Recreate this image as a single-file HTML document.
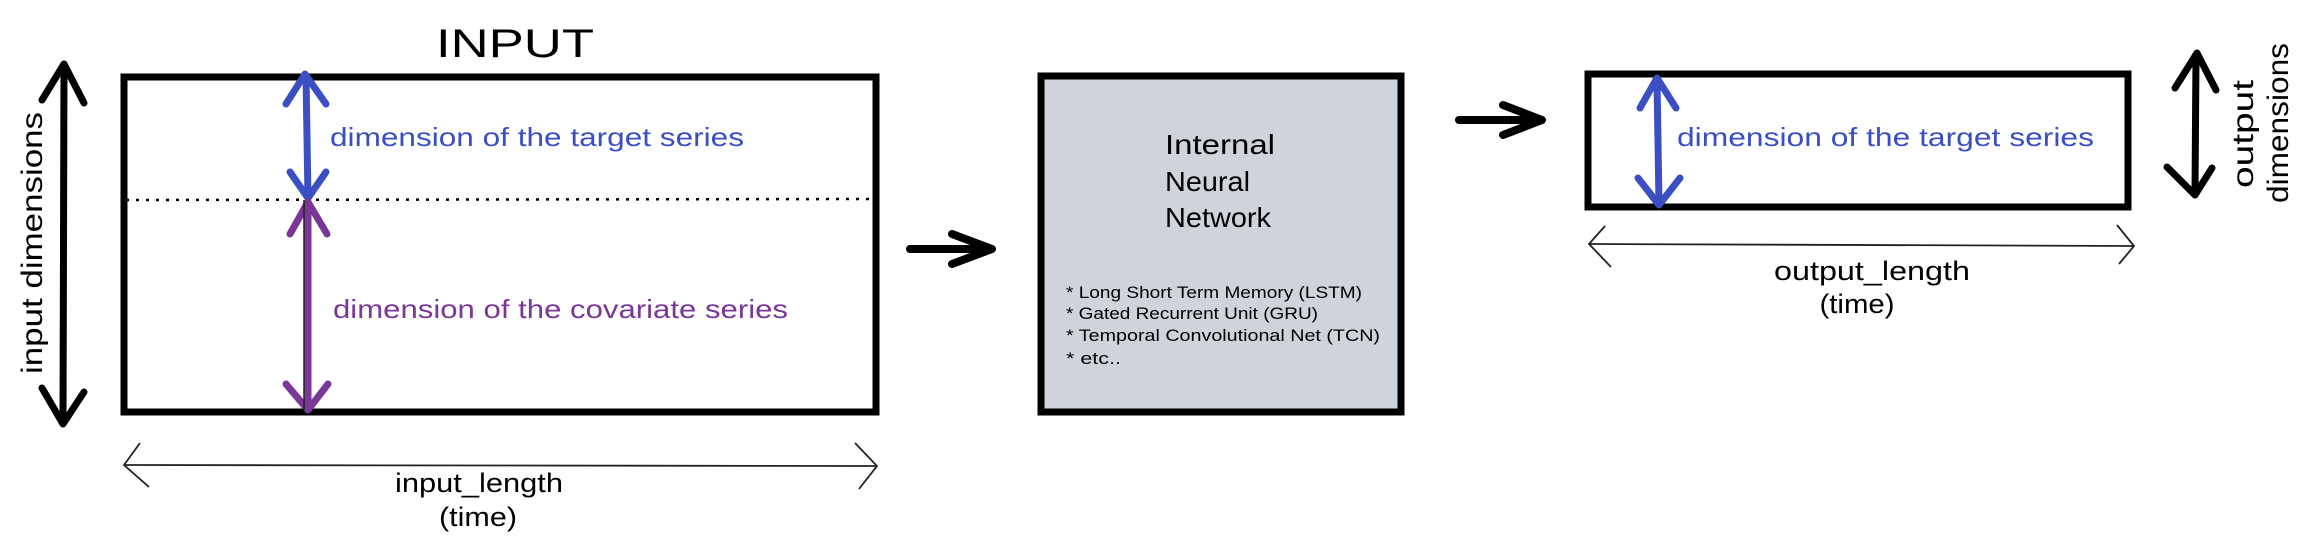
<!DOCTYPE html>
<html><head><meta charset="utf-8"><style>html,body{margin:0;padding:0;background:#fff;}svg{display:block}</style></head>
<body>
<svg width="2324" height="550" viewBox="0 0 2324 550" xmlns="http://www.w3.org/2000/svg" font-family="Liberation Sans, sans-serif">
<rect width="2324" height="550" fill="#fff"/>
<!-- INPUT -->
<text x="515" y="57" font-size="40" text-anchor="middle" textLength="158" lengthAdjust="spacingAndGlyphs">INPUT</text>
<rect x="124" y="77" width="752" height="335" fill="none" stroke="#000" stroke-width="7"/>
<line x1="126" y1="200" x2="872" y2="199" stroke="#000" stroke-width="2.5" stroke-dasharray="3,7"/>
<!-- left big arrow -->
<g stroke="#000" stroke-width="7" fill="none" stroke-linecap="round" stroke-linejoin="round">
<line x1="64" y1="66" x2="63" y2="422"/>
<polyline points="42,100 64,64 84,103"/>
<polyline points="42,388 63,424 84,392"/>
</g>
<text transform="translate(42,243) rotate(-90)" font-size="30" text-anchor="middle" textLength="262" lengthAdjust="spacingAndGlyphs">input dimensions</text>
<!-- blue arrow -->
<g stroke="#3b4fc2" stroke-width="7" fill="none" stroke-linecap="round" stroke-linejoin="round">
<line x1="306" y1="76" x2="308" y2="198"/>
<polyline points="286,104 305,74 326,104"/>
<polyline points="290,172 308,198 326,172"/>
</g>
<text x="330" y="146" font-size="26" fill="#3b4fc2" textLength="414" lengthAdjust="spacingAndGlyphs">dimension of the target series</text>
<!-- purple arrow -->
<g stroke="#7a3797" stroke-width="7" fill="none" stroke-linecap="round" stroke-linejoin="round">
<line x1="308" y1="202" x2="308" y2="410"/>
<polyline points="290,234 308,202 327,234"/>
<polyline points="286,384 308,410 328,384"/>
</g>
<line x1="304" y1="200" x2="304" y2="410" stroke="#222" stroke-width="1.5"/>
<text x="333" y="318" font-size="26" fill="#7a3797" textLength="455" lengthAdjust="spacingAndGlyphs">dimension of the covariate series</text>
<!-- input length -->
<g stroke="#222" stroke-width="1.8" fill="none">
<line x1="124" y1="465" x2="877" y2="466"/>
<polyline points="140,443 124,465 149,487"/>
<polyline points="855,443 877,466 859,489"/>
</g>
<text x="479" y="492" font-size="27" text-anchor="middle" textLength="168" lengthAdjust="spacingAndGlyphs">input_length</text>
<text x="478" y="526" font-size="27" text-anchor="middle" textLength="78" lengthAdjust="spacingAndGlyphs">(time)</text>
<!-- arrow 1 -->
<g stroke="#000" stroke-width="8" fill="none" stroke-linecap="round" stroke-linejoin="round">
<line x1="910" y1="249" x2="990" y2="249"/>
<polyline points="952,234 992,249 952,264"/>
<line x1="1459" y1="120" x2="1540" y2="120"/>
<polyline points="1503,105 1542,120 1503,135"/>
</g>
<!-- NN box -->
<rect x="1041" y="76" width="360" height="336" fill="#ced4da" stroke="#000" stroke-width="7"/>
<text x="1165" y="154" font-size="28" textLength="110" lengthAdjust="spacingAndGlyphs">Internal</text>
<text x="1165" y="191" font-size="28" textLength="85" lengthAdjust="spacingAndGlyphs">Neural</text>
<text x="1165" y="227" font-size="28" textLength="106" lengthAdjust="spacingAndGlyphs">Network</text>
<g font-size="17">
<text x="1066" y="298" textLength="296" lengthAdjust="spacingAndGlyphs">* Long Short Term Memory (LSTM)</text>
<text x="1066" y="319" textLength="252" lengthAdjust="spacingAndGlyphs">* Gated Recurrent Unit (GRU)</text>
<text x="1066" y="341" textLength="314" lengthAdjust="spacingAndGlyphs">* Temporal Convolutional Net (TCN)</text>
<text x="1066" y="364" textLength="55" lengthAdjust="spacingAndGlyphs">* etc..</text>
</g>
<!-- output rect -->
<rect x="1588" y="74" width="540" height="133" fill="none" stroke="#000" stroke-width="7"/>
<g stroke="#3b4fc2" stroke-width="7" fill="none" stroke-linecap="round" stroke-linejoin="round">
<line x1="1657" y1="80" x2="1659" y2="204"/>
<polyline points="1640,108 1657,78 1676,108"/>
<polyline points="1638,178 1659,205 1680,178"/>
</g>
<text x="1677" y="146" font-size="26" fill="#3b4fc2" textLength="417" lengthAdjust="spacingAndGlyphs">dimension of the target series</text>
<g stroke="#222" stroke-width="1.8" fill="none">
<line x1="1589" y1="244" x2="2134" y2="246"/>
<polyline points="1605,226 1589,244 1611,267"/>
<polyline points="2117,225 2134,246 2119,264"/>
</g>
<text x="1872" y="280" font-size="27" text-anchor="middle" textLength="196" lengthAdjust="spacingAndGlyphs">output_length</text>
<text x="1857" y="313" font-size="27" text-anchor="middle" textLength="75" lengthAdjust="spacingAndGlyphs">(time)</text>
<!-- right arrow -->
<g stroke="#000" stroke-width="7" fill="none" stroke-linecap="round" stroke-linejoin="round">
<line x1="2196" y1="55" x2="2195" y2="193"/>
<polyline points="2175,88 2197,53 2216,90"/>
<polyline points="2167,167 2195,195 2212,168"/>
</g>
<text transform="translate(2253,134) rotate(-90)" font-size="30" text-anchor="middle" textLength="108" lengthAdjust="spacingAndGlyphs">output</text>
<text transform="translate(2288,123) rotate(-90)" font-size="30" text-anchor="middle" textLength="160" lengthAdjust="spacingAndGlyphs">dimensions</text>
</svg>
</body></html>
